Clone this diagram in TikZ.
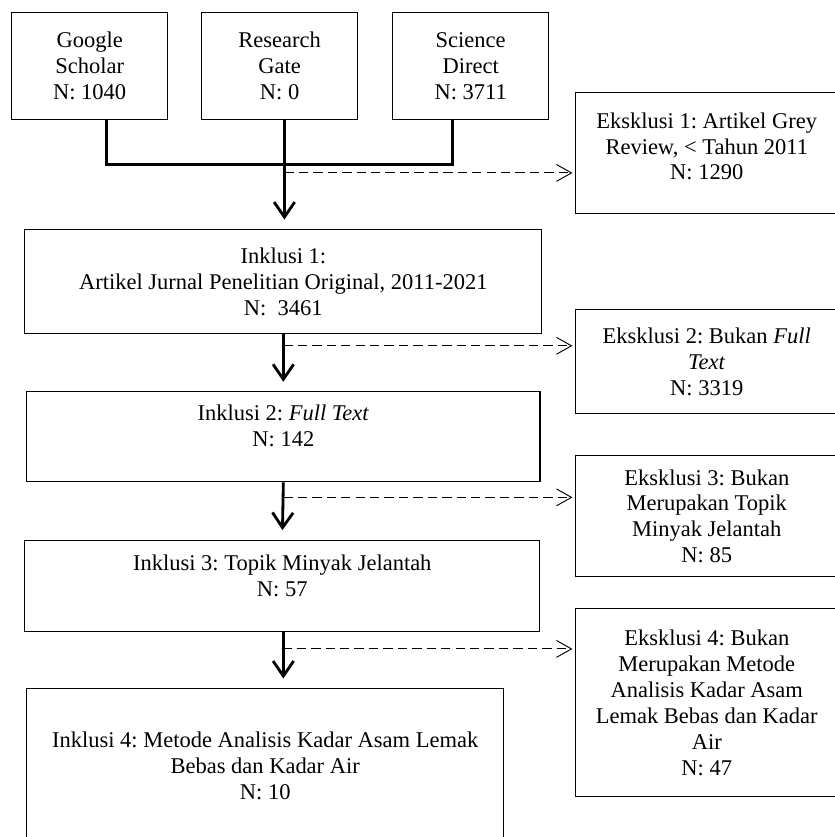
\documentclass[tikz,border=0pt]{standalone}
\usepackage{fontspec}
\setmainfont{Liberation Serif}
\usetikzlibrary{arrows.meta, positioning}
\frenchspacing

\begin{document}
\begin{tikzpicture}[
        font = \fontsize{12}{13.8}\selectfont,
        database/.style = {
            rectangle,
            draw,
            line width=0.6pt,
            align = center,
            inner sep=0pt,
            minimum width=2.92cm,
            minimum height=2.01cm
        },
        inklusi_box/.style = {
            rectangle,
            draw,
            line width=0.6pt,
            align = center,
            inner sep=0pt
        },
        eksklusi_box/.style = {
            rectangle,
            draw,
            line width=0.6pt,
            align = center,
            inner sep=0pt,
            minimum width=4.91cm
        },
        flow/.style = {-{Straight Barb[length=8pt, width=11pt]}, line width=1.5pt, shorten >=5pt},
        excluded/.style = {-{Straight Barb[length=8pt, width=9pt]}, line width=0.5pt, dash pattern=on 5pt off 2.7pt, shorten >=1.5pt}
    ]
    % sumber data
    \node (rg) [database]
        {Research\\Gate\\N: 0};
    \node (gs) [database, left=0.62cm of rg]
        {Google\\Scholar\\N: 1040};
    \node (sd) [database, right=0.64cm of rg]
        {Science\\Direct\\N: 3711};

    % inklusi
    \node (inkl1) [inklusi_box, below=2.04cm of rg, xshift=0.07cm, minimum width=9.69cm, minimum height=1.95cm]
        {Inklusi 1:\\Artikel Jurnal Penelitian Original, 2011-2021\\N:\ \ 3461};
    \node (inkl2) [inklusi_box, below=1.07cm of inkl1, minimum width=9.62cm, minimum height=1.69cm, text depth=12pt]
        {Inklusi 2: \textit{Full Text}\\N: 142};
    \node (inkl3) [inklusi_box, below=1.07cm of inkl2, xshift=-0.02cm, minimum width=9.65cm, minimum height=1.71cm, text depth=11pt]
        {Inklusi 3: Topik Minyak Jelantah\\N: 57};
    \node (inkl4) [inklusi_box, below=1.05cm of inkl3, xshift=-0.32cm, minimum width=8.94cm, minimum height=2.9cm]
        {Inklusi 4: Metode Analisis Kadar Asam Lemak\\Bebas dan Kadar Air\\N: 10};

    % eksklusi
    \node (eks1) [eksklusi_box, right=0.49cm of sd, yshift=-1.63cm, minimum height=2.27cm, text depth=7pt]
        {Eksklusi 1: Artikel Grey\\Review, < Tahun 2011\\N: 1290};
    \node (eks2) [eksklusi_box, below=1.78cm of eks1, minimum height=1.95cm]
        {Eksklusi 2: Bukan \textit{Full}\\\textit{Text}\\N: 3319};
    \node (eks3) [eksklusi_box, below=0.77cm of eks2, minimum height=2.27cm]
        {Eksklusi 3: Bukan\\Merupakan Topik\\Minyak Jelantah\\N: 85};
    \node (eks4) [eksklusi_box, below=0.58cm of eks3, minimum height=3.52cm]
        {Eksklusi 4: Bukan\\Merupakan Metode\\Analisis Kadar Asam\\Lemak Bebas dan Kadar\\Air\\N: 47};

    % penggabungan
    \coordinate (top) at ([xshift=0.09cm]rg.south);
    \coordinate (merge) at ([yshift=-0.84cm]top);
    \draw[line width=1.5pt] ([xshift=0.32cm]gs.south) |- (merge) -| ([xshift=-0.34cm]sd.south);

    \draw[flow] (top) -- (top |- inkl1.north);
    \draw[flow] (inkl1.south) -- (inkl2.north);
    \draw[flow] (inkl2.south) -- (inkl3.north);
    \draw[flow] (inkl3.south -| inkl2.south) -- (inkl2.south |- inkl4.north);

    \coordinate (d1) at ([yshift=-0.15cm]merge);
    \coordinate (d2) at ([yshift=-0.22cm]inkl1.south);
    \coordinate (d3) at ([yshift=-0.28cm]inkl2.south);
    \coordinate (d4) at ([yshift=-0.32cm]inkl3.south);
    \draw[excluded] (d1) -- (d1 -| eks1.west);
    \draw[excluded] (d2) -- (d2 -| eks2.west);
    \draw[excluded] (d3) -- (d3 -| eks3.west);
    \draw[excluded] (d4) -- (d4 -| eks4.west);

    \pgfresetboundingbox
    \useasboundingbox ([xshift=-0.21cm, yshift=0.22cm]gs.north west) rectangle ++(15.65cm,-15.69cm);
\end{tikzpicture}
\end{document}
